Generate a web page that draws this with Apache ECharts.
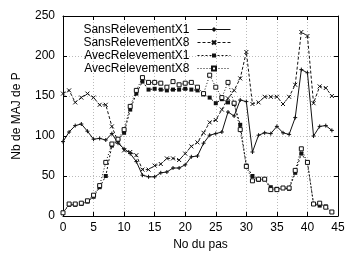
<!DOCTYPE html>
<html>
<head>
<meta charset="utf-8">
<script src="https://cdn.jsdelivr.net/npm/echarts@6/dist/echarts.min.js"></script>
<style>
  html, body { margin: 0; padding: 0; background: #fff; }
  #chart { width: 348px; height: 256px; }
</style>
</head>
<body>
<div id="chart"></div>
<script>
// pas 0..44
const steps = Array.from({ length: 45 }, (_, i) => i)

const sansX1 = [93, 105, 113, 115, 106, 96, 97, 95, 103, 91, 84, 78, 68, 51, 49, 49, 54, 55, 60, 60,
  64, 74, 75, 91, 101, 103, 105, 130, 125, 145, 143, 80, 101, 104, 103, 112, 104, 102, 123, 183,
  179, 100, 112, 113, 107]
const sansX8 = [153, 157, 142, 148, 153, 148, 139, 139, 112, 93, 82, 80, 76, 58, 58, 63, 65, 72, 72, 70,
  78, 87, 92, 104, 117, 120, 133, 147, 157, 172, 205, 140, 142, 149, 149, 149, 140, 149, 164, 230,
  225, 141, 162, 160, 150]
const avecX1 = [4, 14, 14, 15, 18, 24, 36, 50, 88, 95, 104, 133, 153, 168, 158, 159, 158, 157, 158, 158,
  159, 158, 157, 152, 148, 141, 146, 142, 140, 114, 63, 50, 45, 46, 36, 34, 35, 34, 54, 78,
  67, 15, 13, 12, 5]
const avecX8 = [4, 15, 15, 16, 19, 26, 38, 67, 90, 96, 108, 137, 157, 173, 167, 167, 166, 161, 168, 164,
  166, 167, 161, 153, 176, 161, 148, 167, 141, 108, 62, 44, 46, 46, 33, 33, 35, 35, 57, 84,
  67, 15, 16, 11, 5]

const seriesNames = ['SansRelevementX1', 'SansRelevementX8', 'AvecRelevementX1', 'AvecRelevementX8']

const plusPath = 'path://M0,5L10,5M5,0L5,10'
const crossPath = 'path://M0,0L10,10M10,0L0,10'

const pts = (ys) => steps.map((x, i) => [x, ys[i]])

const chart = echarts.init(document.getElementById('chart'))

const axisBase = {
  type: 'value',
  axisLine: { show: true, onZero: false, lineStyle: { color: '#000', width: 1 } },
  axisTick: { show: true, inside: true, length: 4, lineStyle: { color: '#000' } },
  axisLabel: { color: '#000', fontSize: 12, fontFamily: 'Liberation Sans' }
}

const gridLine = { show: true, lineStyle: { color: '#bbb', type: [1, 2], width: 1 } }

chart.setOption({
  animation: false,
  textStyle: { fontFamily: 'Liberation Sans' },
  grid: { left: 63, right: 10, top: 16, bottom: 40 },
  legend: {
    orient: 'vertical',
    right: 112,
    top: 18,
    align: 'right',
    itemWidth: 33,
    itemHeight: 5,
    itemGap: 0,
    lineStyle: { width: 1 },
    textStyle: { fontSize: 12, lineHeight: 13, color: '#000', fontFamily: 'Liberation Sans', padding: [0, 3, 0, 0] },
    data: seriesNames
  },
  xAxis: [
    Object.assign({}, axisBase, {
      min: 0, max: 45, interval: 5,
      name: 'No du pas', nameLocation: 'middle', nameGap: 22,
      nameTextStyle: { fontSize: 12, color: '#000' },
      axisLabel: Object.assign({}, axisBase.axisLabel, { margin: 6 }),
      splitLine: gridLine
    }),
    Object.assign({}, axisBase, {
      position: 'top', min: 0, max: 45, interval: 5,
      axisLabel: { show: false }, splitLine: { show: false }
    })
  ],
  yAxis: [
    Object.assign({}, axisBase, {
      min: 0, max: 250, interval: 50,
      name: 'Nb de MAJ de P', nameLocation: 'middle', nameGap: 40,
      nameTextStyle: { fontSize: 12, color: '#000' },
      axisLabel: Object.assign({}, axisBase.axisLabel, { margin: 8 }),
      splitLine: gridLine
    }),
    Object.assign({}, axisBase, {
      position: 'right', min: 0, max: 250, interval: 50,
      axisLabel: { show: false }, splitLine: { show: false }
    })
  ],
  series: [
    {
      name: seriesNames[0], type: 'line', data: pts(sansX1),
      symbol: plusPath, symbolSize: 4,
      lineStyle: { color: '#111', width: 1, type: 'solid' },
      itemStyle: { color: '#111', borderColor: '#111', borderWidth: 1 }
    },
    {
      name: seriesNames[1], type: 'line', data: pts(sansX8),
      symbol: crossPath, symbolSize: 4,
      lineStyle: { color: '#111', width: 1, type: [3, 2] },
      itemStyle: { color: '#111', borderColor: '#111', borderWidth: 1 }
    },
    {
      name: seriesNames[2], type: 'line', data: pts(avecX1),
      symbol: 'rect', symbolSize: 4,
      lineStyle: { color: '#111', width: 1, type: [2, 2] },
      itemStyle: { color: '#111', borderColor: '#111', borderWidth: 0 }
    },
    {
      name: seriesNames[3], type: 'line', data: pts(avecX8),
      symbol: 'rect', symbolSize: 4,
      lineStyle: { color: '#111', width: 1, type: [1, 2] },
      itemStyle: { color: '#fff', borderColor: '#111', borderWidth: 1 }
    }
  ]
})
</script>
</body>
</html>
